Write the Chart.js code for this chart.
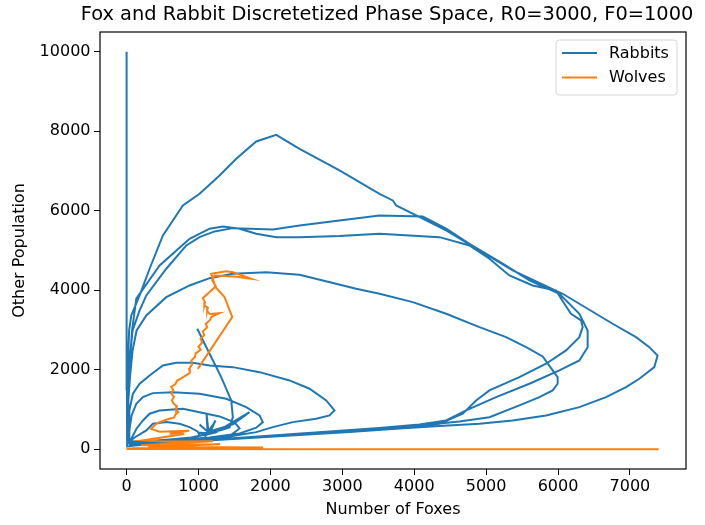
<!DOCTYPE html>
<html>
<head>
<meta charset="utf-8">
<script src="https://cdn.jsdelivr.net/npm/chart.js@4.4.0/dist/chart.umd.min.js"></script>
<style>
  html, body { margin: 0; padding: 0; background: #ffffff; }
  #wrap { width: 705px; height: 525px; position: relative; }
</style>
</head>
<body>
<div id="wrap"><canvas id="c" width="705" height="525"></canvas></div>
<script>
// ---- Data ----
const chartTitle = "Fox and Rabbit Discretetized Phase Space, R0=3000, F0=1000";
const xAxisTitle = "Number of Foxes";
const yAxisTitle = "Other Population";
const seriesNames = ["Rabbits", "Wolves"];

const xTickValues = [0, 1000, 2000, 3000, 4000, 5000, 6000, 7000];
const yTickValues = [0, 2000, 4000, 6000, 8000, 10000];

// Rabbits series: x = foxes, y = rabbits
const rabbitFoxes = [
  983,1154,1316,1455,1478,1432,1293,
  1126,1112,1140,1015,1154,1237,1140,1321,1126,987,1168,1195,1084,
  1154,1478,1710,1237,900,600,300,
  42,111,274,366,552,737,876,987,1015,876,528,181,42,
  83,139,227,320,459,783,1015,1293,1501,1571,1460,1084,528,111,28,
  42,70,135,227,366,644,1015,1386,1664,1849,1895,1803,
  1571,1154,598,181,42,
  35,42,88,181,320,505,691,922,1154,1478,1849,2266,2544,2776,2891,2822,2637,2312,2034,1803,1432,876,320,56,
  28,21,28,49,83,139,274,552,876,1154,1478,1942,2405,2729,3193,3517,3980,4444,4907,5278,5556,5787,5926,5995,5995,5926,5741,5463,5046,
  4629,4073,3378,2683,1988,1293,598,111,28,
  21,14,21,42,76,135,459,876,1154,1339,1571,1803,2081,2405,2961,3517,4351,4768,5046,5324,5648,5973,6088,6181,6320,6343,6297,6112,5834,5463,5046,4861,4675,4351,
  3795,3100,2405,1710,1015,459,83,21,
  14,14,21,42,83,181,274,552,830,1015,1223,1478,1710,2034,2405,2961,3517,4119,4444,4768,5231,5602,6019,6297,6412,6412,6297,6019,5602,5139,4722,4444,
  4073,3517,2822,2126,1432,737,250,42,14,
  14,11,14,21,35,65,181,320,505,783,1015,1293,1525,1803,2081,2405,2961,3517,3702,3749,4027,4444,4907,5370,6065,6760,7085,7270,7385,7339,7131,6946,6668,6297,5834,5370,4907,
  4351,3795,3100,2405,1710,1015,459,111,14,
  7,4,0,0
];
const rabbitPop = [
  3030,2401,1812,1226,805,546,471,
  446,873,420,622,395,722,420,521,370,420,395,597,320,
  446,622,931,420,294,244,206,
  194,294,471,639,680,639,554,446,345,257,194,156,169,
  320,521,722,891,974,1017,931,823,672,521,370,269,194,156,219,
  521,848,1143,1309,1410,1435,1394,1269,1057,848,680,539,
  395,294,219,169,194,
  471,974,1394,1646,1855,2107,2175,2175,2107,2064,1938,1729,1520,1226,974,848,765,680,554,428,320,232,169,169,
  194,722,1226,1855,2484,2988,3365,3826,4120,4304,4415,4455,4390,4246,4037,3911,3700,3408,3071,2819,2567,2333,1981,1812,1646,1477,1309,1100,805,
  697,597,496,408,332,257,194,143,194,
  194,722,1352,2107,2988,3786,4624,5296,5548,5605,5548,5422,5336,5336,5366,5422,5336,5127,4792,4372,4120,3995,3660,3408,3239,3071,2819,2484,2150,1812,1477,1226,891,639,
  546,446,370,294,219,156,118,194,
  219,722,1352,2233,2988,3491,3869,4541,5127,5336,5480,5563,5548,5530,5631,5757,5883,5857,5548,5170,4667,4246,3911,3408,2988,2567,2233,1981,1646,1309,974,722,
  622,534,446,357,269,194,131,118,219,
  194,722,1477,2233,2988,3365,3869,4541,5379,6134,6428,6889,7309,7745,7913,7561,7015,6428,6260,6134,5883,5505,5001,4498,3911,3156,2819,2567,2358,2064,1772,1561,1309,1057,848,722,639,
  584,521,433,357,282,206,143,93,68,
  200,1500,5000,10000
];

// Wolves series: x = foxes, y = wolves
const wolfFoxes = [
  990,1469,1362,1237,1177,1386,1478,1733,1501,1223,
  1190,1240,1150,1060,1090,1080,1130,1120,1160,1290,1180,1160,1100,1120,1060,1080,1030,1050,1000,1030,960,950,900,910,870,880,810,760,700,680,620,650,620,660,630,650,700,690,720,680,660,550,420,380,340,460,870,600,800,230,500,1200,700,200,1300,300,1900,100,0,
  2900,30,6000,20,6340,20,6410,15,7400,5
];
const wolfPop = [
  2020,3322,3826,4078,4415,4480,4455,4289,4347,4372,
  4250,4100,3950,3800,3700,3620,3560,3480,3400,3420,3330,3250,3150,3060,2960,2870,2780,2680,2580,2500,2410,2320,2230,2130,2030,1920,1840,1780,1720,1640,1570,1480,1400,1310,1230,1150,1080,1000,930,870,800,740,650,580,510,440,460,390,380,220,190,200,150,100,120,60,40,20,5,
  0,0,0,0,0,0,0,0,0,0
];

const BLUE = '#1f77b4';
const ORANGE = '#ff7f0e';
const FONT = '"DejaVu Sans", "Liberation Sans", sans-serif';

const toPoints = (xs, ys) => xs.map((x, i) => ({ x: x, y: ys[i] }));

const framePlugin = {
  id: 'framePlugin',
  afterDraw(chart) {
    const { ctx, chartArea: a } = chart;
    ctx.save();
    // axes frame (all four spines)
    ctx.strokeStyle = '#000';
    ctx.lineWidth = 1.2;
    ctx.strokeRect(a.left, a.top, a.right - a.left, a.bottom - a.top);
    // title
    ctx.fillStyle = '#000';
    ctx.font = '19.4px ' + FONT;
    ctx.textAlign = 'center';
    ctx.textBaseline = 'middle';
    ctx.fillText(chartTitle, (a.left + a.right) / 2 - 6, 15);
    // legend box
    const bx = 556, by = 40, bw = 121, bh = 55, r = 3;
    ctx.beginPath();
    ctx.moveTo(bx + r, by);
    ctx.lineTo(bx + bw - r, by);
    ctx.quadraticCurveTo(bx + bw, by, bx + bw, by + r);
    ctx.lineTo(bx + bw, by + bh - r);
    ctx.quadraticCurveTo(bx + bw, by + bh, bx + bw - r, by + bh);
    ctx.lineTo(bx + r, by + bh);
    ctx.quadraticCurveTo(bx, by + bh, bx, by + bh - r);
    ctx.lineTo(bx, by + r);
    ctx.quadraticCurveTo(bx, by, bx + r, by);
    ctx.closePath();
    ctx.fillStyle = 'rgba(255,255,255,0.8)';
    ctx.fill();
    ctx.strokeStyle = '#d6d6d6';
    ctx.lineWidth = 1;
    ctx.stroke();
    const colors = [BLUE, ORANGE];
    const rows = [53, 77.5];
    ctx.font = '16px ' + FONT;
    ctx.textAlign = 'left';
    for (let i = 0; i < 2; i++) {
      ctx.strokeStyle = colors[i];
      ctx.lineWidth = 2;
      ctx.beginPath();
      ctx.moveTo(562, rows[i]);
      ctx.lineTo(597, rows[i]);
      ctx.stroke();
      ctx.fillStyle = '#000';
      ctx.fillText(seriesNames[i], 609, rows[i] + 0.5);
    }
    ctx.restore();
  }
};

new Chart(document.getElementById('c'), {
  type: 'scatter',
  data: {
    datasets: [
      {
        label: seriesNames[0],
        data: toPoints(rabbitFoxes, rabbitPop),
        showLine: true,
        borderColor: BLUE,
        backgroundColor: BLUE,
        borderWidth: 2,
        pointRadius: 0,
        tension: 0,
        order: 2
      },
      {
        label: seriesNames[1],
        data: toPoints(wolfFoxes, wolfPop),
        showLine: true,
        borderColor: ORANGE,
        backgroundColor: ORANGE,
        borderWidth: 2,
        pointRadius: 0,
        tension: 0,
        order: 1
      }
    ]
  },
  options: {
    responsive: false,
    animation: false,
    devicePixelRatio: 1,
    layout: { padding: { top: 32, right: 19, bottom: 0, left: 0 } },
    plugins: {
      legend: { display: false },
      title: { display: false },
      tooltip: { enabled: false }
    },
    scales: {
      x: {
        type: 'linear',
        min: -370,
        max: 7780,
        afterFit: (s) => { s.height = 56; },
        afterBuildTicks: (s) => { s.ticks = xTickValues.map(v => ({ value: v })); },
        border: { display: false },
        grid: { drawOnChartArea: false, drawTicks: true, tickLength: 6, color: '#000', tickColor: '#000' },
        ticks: {
          color: '#000',
          font: { family: FONT, size: 16 },
          padding: 2,
          maxRotation: 0,
          autoSkip: false,
          callback: (v) => String(v)
        },
        title: {
          display: true,
          text: xAxisTitle,
          color: '#000',
          font: { family: FONT, size: 16 },
          padding: { top: 0, bottom: 5.5 }
        }
      },
      y: {
        type: 'linear',
        min: -500,
        max: 10500,
        afterFit: (s) => { s.width = 100; },
        afterBuildTicks: (s) => { s.ticks = yTickValues.map(v => ({ value: v })); },
        border: { display: false },
        grid: { drawOnChartArea: false, drawTicks: true, tickLength: 6, color: '#000', tickColor: '#000' },
        ticks: {
          color: '#000',
          font: { family: FONT, size: 16 },
          padding: 3.5,
          autoSkip: false,
          callback: (v) => String(v)
        },
        title: {
          display: true,
          text: yAxisTitle,
          color: '#000',
          font: { family: FONT, size: 16 },
          padding: { top: 10, bottom: 0 }
        }
      }
    }
  },
  plugins: [framePlugin]
});
</script>
</body>
</html>
